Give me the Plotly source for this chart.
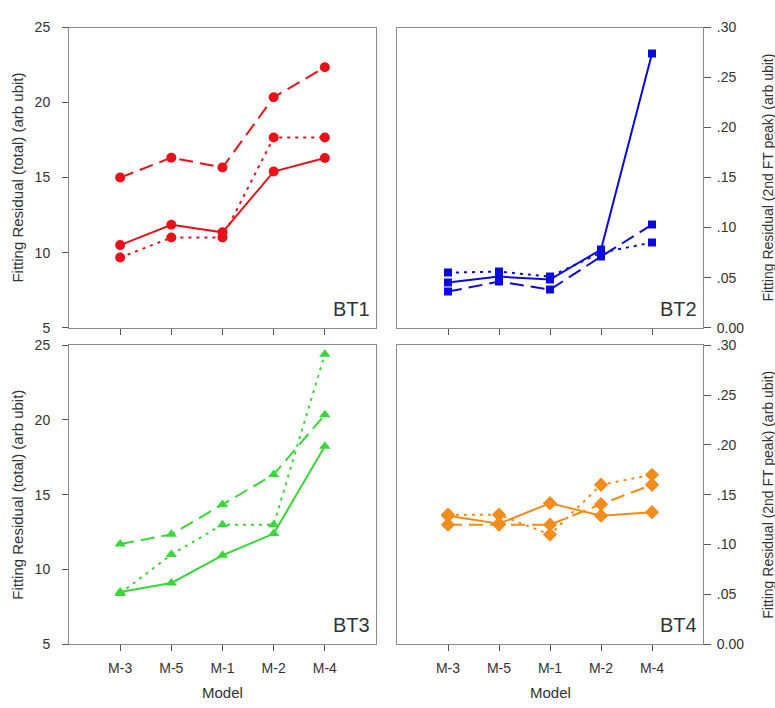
import plotly.graph_objects as go

W, H = 775, 708

models = ['M-3', 'M-5', 'M-1', 'M-2', 'M-4']

bt1_solid = [10.5, 11.85, 11.35, 15.4, 16.3]
bt1_dash = [15.0, 16.33, 15.67, 20.35, 22.35]
bt1_dot = [9.67, 11.0, 11.0, 17.67, 17.67]

bt2_solid = [0.045, 0.051, 0.048, 0.078, 0.274]
bt2_dash = [0.036, 0.046, 0.038, 0.071, 0.103]
bt2_dot = [0.055, 0.056, 0.051, 0.075, 0.085]

bt3_solid = [8.5, 9.1, 10.95, 12.4, 18.25]
bt3_dash = [11.7, 12.35, 14.35, 16.35, 20.35]
bt3_dot = [8.4, 11.0, 13.0, 13.0, 24.4]

bt4_solid = [0.129, 0.121, 0.1415, 0.129, 0.1325]
bt4_dash = [0.12, 0.12, 0.12, 0.1405, 0.16]
bt4_dot = [0.13, 0.13, 0.11, 0.16, 0.17]

left_ticks = [5, 10, 15, 20, 25]
left_ticktext = ['5', '10', '15', '20', '25']
right_ticks = [0.0, 0.05, 0.10, 0.15, 0.20, 0.25, 0.30]
right_ticktext = ['0.00', '.05', '.10', '.15', '.20', '.25', '.30']

panel_labels = ['BT1', 'BT2', 'BT3', 'BT4']
left_title = 'Fitting Residual (total) (arb ubit)'
right_title = 'Fitting Residual (2nd FT peak) (arb ubit)'
x_title = 'Model'

RED = '#e8121a'
BLUE = '#0a0ae0'
GREEN = '#38d838'
ORANGE = '#f28c1c'

FONT = 'Liberation Sans, Arial, sans-serif'
TXT = '#333333'
LINE = '#8c8c8c'

xs = list(range(len(models)))

# pixel boxes: (left, right, top, bottom)
boxes = [(69, 376, 20, 327), (397, 703, 20, 327), (69, 376, 345, 651), (397, 703, 345, 651)]

def xdom(b):
    return [b[0] / W, b[1] / W]

def ydom(b):
    return [1 - b[3] / H, 1 - b[2] / H]

fig = go.Figure()

series = [
    (1, RED, 'circle', 10, bt1_solid, bt1_dash, bt1_dot),
    (2, BLUE, 'square', 8, bt2_solid, bt2_dash, bt2_dot),
    (3, GREEN, 'triangle-up', 10, bt3_solid, bt3_dash, bt3_dot),
    (4, ORANGE, 'diamond', 11, bt4_solid, bt4_dash, bt4_dot),
]

for idx, color, sym, msize, s, d, o in series:
    xa = 'x' if idx == 1 else f'x{idx}'
    ya = 'y' if idx == 1 else f'y{idx}'
    for vals, dash in [(o, '3px,5px'), (d, '14px,7px'), (s, 'solid')]:
        fig.add_trace(go.Scatter(
            x=xs, y=vals, xaxis=xa, yaxis=ya, mode='lines+markers',
            line=dict(color=color, width=2, dash=dash),
            marker=dict(symbol=sym, size=msize, color=color),
            showlegend=False, hoverinfo='skip'))

layout = dict(
    width=W, height=H, margin=dict(l=0, r=0, t=0, b=0),
    paper_bgcolor='white', plot_bgcolor='white',
    font=dict(family=FONT, size=14, color=TXT),
    showlegend=False,
)

for i, b in enumerate(boxes, start=1):
    xk = 'xaxis' if i == 1 else f'xaxis{i}'
    yk = 'yaxis' if i == 1 else f'yaxis{i}'
    yname = 'y' if i == 1 else f'y{i}'
    xname = 'x' if i == 1 else f'x{i}'
    bottom = i in (3, 4)
    right = i in (2, 4)
    layout[xk] = dict(
        domain=xdom(b), anchor=yname, range=[-1, 5],
        tickvals=xs, ticktext=models if bottom else [''] * len(models),
        showticklabels=bottom, ticks='outside', ticklen=6, tickcolor='#555',
        ticklabelstandoff=5,
        showline=True, linecolor=LINE, linewidth=1, mirror=True,
        showgrid=False, zeroline=False,
        tickfont=dict(size=14, color=TXT, family=FONT),
    )
    if right:
        layout[yk] = dict(
            domain=ydom(b), anchor=xname, side='right', range=[0, 0.30],
            tickvals=right_ticks, ticktext=right_ticktext,
            ticks='outside', ticklen=7, tickcolor='#555', ticklabelstandoff=3,
            showline=True, linecolor=LINE, linewidth=1, mirror=True,
            showgrid=False, zeroline=False,
            tickfont=dict(size=14, color=TXT, family=FONT),
        )
    else:
        layout[yk] = dict(
            domain=ydom(b), anchor=xname, range=[5, 25],
            tickvals=left_ticks, ticktext=left_ticktext,
            ticks='outside', ticklen=6, tickcolor='#555', ticklabelstandoff=9,
            showline=True, linecolor=LINE, linewidth=1, mirror=True,
            showgrid=False, zeroline=False,
            tickfont=dict(size=14, color=TXT, family=FONT),
        )

fig.update_layout(**layout)

annotations = []
for i, b in enumerate(boxes):
    annotations.append(dict(
        text=panel_labels[i], xref='paper', yref='paper',
        x=(b[1] - 4) / W, y=1 - (b[3] - 6) / H, xanchor='right', yanchor='bottom',
        showarrow=False, font=dict(size=20, color=TXT, family=FONT)))
    cy = 1 - (b[2] + b[3]) / 2 / H
    if i in (0, 2):
        annotations.append(dict(
            text=left_title, xref='paper', yref='paper', x=18 / W, y=cy,
            xanchor='center', yanchor='middle', textangle=-90, showarrow=False,
            font=dict(size=15, color=TXT, family=FONT)))
    else:
        annotations.append(dict(
            text=right_title, xref='paper', yref='paper', x=768 / W, y=cy,
            xanchor='center', yanchor='middle', textangle=-90, showarrow=False,
            font=dict(size=14, color=TXT, family=FONT)))
    if i in (2, 3):
        annotations.append(dict(
            text=x_title, xref='paper', yref='paper', x=(b[0] + b[1]) / 2 / W,
            y=1 - 700 / H, xanchor='center', yanchor='middle', showarrow=False,
            font=dict(size=15, color=TXT, family=FONT)))

fig.update_layout(annotations=annotations)

fig.write_html('out.html')
